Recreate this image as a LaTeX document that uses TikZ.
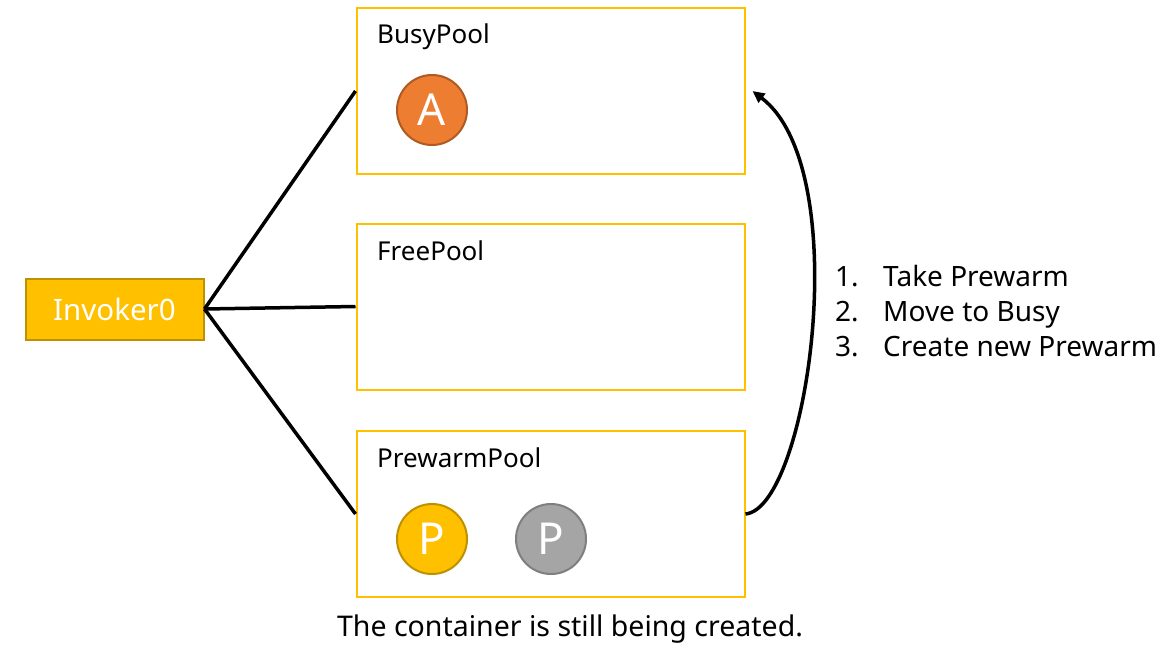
\documentclass[tikz,border=0pt]{standalone}
\usepackage{fontspec}
\setmainfont{Noto Sans}
\usetikzlibrary{arrows.meta}
\definecolor{gold}{HTML}{FFC000}
\definecolor{golddark}{HTML}{BF9000}
\definecolor{orangeA}{HTML}{ED7D31}
\definecolor{orangedark}{HTML}{AE5A21}
\definecolor{greyP}{HTML}{A5A5A5}
\definecolor{greydark}{HTML}{7F7F7F}
\tikzset{
  pool/.style={draw=gold, line width=2pt, minimum width=388pt, minimum height=166pt, inner sep=0pt},
  poollabel/.style={anchor=base west, inner sep=0pt, font=\fontsize{26}{30}\selectfont},
  invoker/.style={draw=golddark, fill=gold, line width=2pt, minimum width=178pt, minimum height=61pt,
    inner sep=0pt, text=white, font=\fontsize{29.5}{34}\selectfont},
  container/.style={circle, line width=2pt, minimum size=70pt, inner sep=0pt, text=white,
    font=\fontsize{44}{48}\selectfont},
  link/.style={line width=3.5pt, black},
  item/.style={anchor=base west, inner sep=0pt, font=\fontsize{28}{32}\selectfont},
}
\begin{document}
\begin{tikzpicture}[x=1pt,y=-1pt]
\useasboundingbox (0,0) rectangle (1166,647);

% the three pools
\node[pool] (busy) at (550.5,91) {};
\node[pool] (free) at (550.5,306.5) {};
\node[pool] (prew) at (550.5,514) {};
\node[poollabel] (busylbl) at (377,44) {BusyPool};
\node[poollabel] (freelbl) at (377,260) {FreePool};
\node[poollabel] (prewlbl) at (377,467) {PrewarmPool};

% containers
\node[container, fill=orangeA, draw=orangedark] (ca) at (432,110) {A};
\node[container, fill=gold, draw=golddark] (cp1) at (432,539) {P};
\node[container, fill=greyP, draw=greydark] (cp2) at (551,539) {P};

% invoker and its links to the pools
\node[invoker] (inv) at (114.5,309) {Invoker0};
\draw[link] (inv.east) -- (busy.west);
\draw[link] (inv.east) -- (free.west);
\draw[link] (inv.east) -- (prew.west);

% prewarm -> busy
\coordinate (tip) at ([xshift=7pt]busy.east);
\draw[line width=3.5pt, -{Triangle[length=12pt,width=11pt]}]
  (prew.east) .. controls (808,508) and (856,170) .. (tip);

% steps
\node[item] (s1) at (835,286) {\makebox[48pt][l]{1.}Take Prewarm};
\node[item] (s2) at (835,321) {\makebox[48pt][l]{2.}Move to Busy};
\node[item] (s3) at (835,356) {\makebox[48pt][l]{3.}Create new Prewarm};

% caption
\node[anchor=base, inner sep=0pt, font=\fontsize{28.5}{32}\selectfont] (note) at (570,636)
  {The container is still being created.};
\end{tikzpicture}
\end{document}
